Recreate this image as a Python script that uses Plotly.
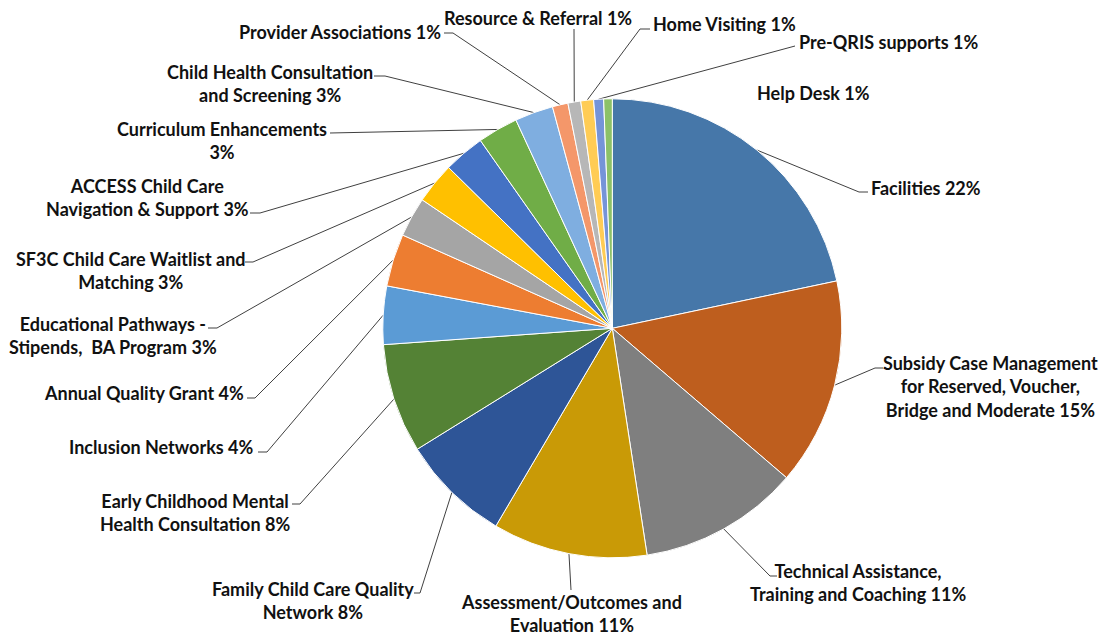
import math
import plotly.graph_objects as go

# ---------------- data ----------------
categories = [
    "Facilities", "Subsidy Case Management for Reserved, Voucher, Bridge and Moderate",
    "Technical Assistance, Training and Coaching", "Assessment/Outcomes and Evaluation",
    "Family Child Care Quality Network", "Early Childhood Mental Health Consultation",
    "Inclusion Networks", "Annual Quality Grant", "Educational Pathways - Stipends, BA Program",
    "SF3C Child Care Waitlist and Matching", "ACCESS Child Care Navigation & Support",
    "Curriculum Enhancements", "Child Health Consultation and Screening",
    "Provider Associations", "Resource & Referral", "Home Visiting",
    "Pre-QRIS supports", "Help Desk",
]
values = [21.7, 14.6, 11.3, 10.9, 7.7, 7.7, 4.1, 3.7, 2.8, 2.9, 2.9, 2.85, 2.7,
          1.1, 0.9, 0.9, 0.7, 0.6]
label_templates = [
    "Facilities {p}%",
    "Subsidy Case Management<br>for Reserved, Voucher,<br>Bridge and Moderate {p}%",
    "Technical Assistance,<br>Training and Coaching {p}%",
    "Assessment/Outcomes and<br>Evaluation {p}%",
    "Family Child Care Quality<br>Network {p}%",
    "Early Childhood Mental<br>Health Consultation {p}%",
    "Inclusion Networks {p}%",
    "Annual Quality Grant {p}%",
    "Educational Pathways -<br>Stipends,&nbsp; BA Program {p}%",
    "SF3C Child Care Waitlist and<br>Matching {p}%",
    "ACCESS Child Care<br>Navigation & Support {p}%",
    "Curriculum Enhancements<br>{p}%",
    "Child Health Consultation<br>and Screening {p}%",
    "Provider Associations {p}%",
    "Resource & Referral {p}%",
    "Home Visiting {p}%",
    "Pre-QRIS supports {p}%",
    "Help Desk {p}%",
]
colors = [
    "#4677A9", "#BE5E1E", "#7F7F7F", "#C99A06", "#2E5597", "#548235",
    "#5B9BD5", "#ED7D31", "#A5A5A5", "#FFC000", "#4472C4", "#70AD47",
    "#7FAEE0", "#F4976A", "#B7B7B7", "#FFCC55", "#7594D8", "#8CC168",
]

# ---------------- layout (pixel space) ----------------
W, H = 1102, 635
CX, CY, R = 612.3, 328.3, 229.5

# text position, anchor, and leader path (points after the rim point)
label_layout = [
    dict(x=869, y=188, xanchor="left", leader=[(859, 192), (868, 192)]),
    dict(x=990, y=386, xanchor="center", leader=[(875, 368), (883, 368)]),
    dict(x=858, y=582, xanchor="center", leader=[(770, 576), (777, 576)]),
    dict(x=571, y=613, xanchor="center", leader=[(571, 590)]),
    dict(x=313, y=600, xanchor="center", leader=[(420, 593), (414, 593)]),
    dict(x=195, y=512, xanchor="center", leader=[(300, 504), (292, 504)]),
    dict(x=256, y=447, xanchor="right", leader=[(267, 452), (258, 452)]),
    dict(x=246, y=393, xanchor="right", leader=[(255, 398), (247, 398)]),
    dict(x=113, y=335, xanchor="center", leader=[(217, 328), (208, 328)]),
    dict(x=131, y=270, xanchor="center", leader=[(253, 262), (245, 262)]),
    dict(x=147, y=197, xanchor="center", leader=[(260, 213), (250, 213)]),
    dict(x=222, y=140, xanchor="center", leader=[(340, 133), (330, 133)]),
    dict(x=270, y=83, xanchor="center", leader=[(385, 76), (374, 76)]),
    dict(x=443, y=32, xanchor="right", leader=[(453, 33), (444, 33)]),
    dict(x=538, y=18, xanchor="center", leader=[(574, 29)]),
    dict(x=651, y=24, xanchor="left", leader=[(640, 29), (650, 29)]),
    dict(x=797, y=42, xanchor="left", leader=[(795, 46)]),
    dict(x=755, y=93, xanchor="left", leader=[]),
]

total = sum(values)

fig = go.Figure()
fig.add_trace(go.Pie(
    labels=categories, values=values, sort=False, direction="clockwise",
    rotation=0, textinfo="none", hoverinfo="label+percent",
    marker=dict(colors=colors, line=dict(color="white", width=1)),
    domain=dict(x=[(CX - R) / W, (CX + R) / W],
                y=[1 - (CY + R) / H, 1 - (CY - R) / H]),
    showlegend=False,
))

# leader lines from slice mid-angle on the rim
lx, ly = [], []
cum = 0.0
annotations = []
for v, tpl, lay in zip(values, label_templates, label_layout):
    theta = 2 * math.pi * (cum + v / 2) / total
    cum += v
    rx = CX + R * math.sin(theta)
    ry = CY - R * math.cos(theta)
    if lay["leader"]:
        pts = [(rx, ry)] + lay["leader"]
        for px, py in pts:
            lx.append(px)
            ly.append(py)
        lx.append(None)
        ly.append(None)
    pct = round(v / total * 100)
    annotations.append(dict(
        x=lay["x"], y=lay["y"], xref="x", yref="y", text=tpl.format(p=pct),
        showarrow=False, xanchor=lay["xanchor"], yanchor="middle", align="center",
        font=dict(family="Lato", size=18, color="#111111", weight=700),
    ))

fig.add_trace(go.Scatter(x=lx, y=ly, mode="lines", hoverinfo="skip",
                         line=dict(color="#404040", width=1), showlegend=False))

fig.update_layout(
    width=W, height=H, margin=dict(l=0, r=0, t=0, b=0),
    paper_bgcolor="white", plot_bgcolor="rgba(0,0,0,0)",
    xaxis=dict(range=[0, W], visible=False, domain=[0, 1], fixedrange=True),
    yaxis=dict(range=[H, 0], visible=False, domain=[0, 1], fixedrange=True),
    annotations=annotations,
)

fig.write_html(
    "out.html",
    config={"displayModeBar": False},
    post_script="document.body.style.margin='0';document.body.style.overflow='hidden';",
)
